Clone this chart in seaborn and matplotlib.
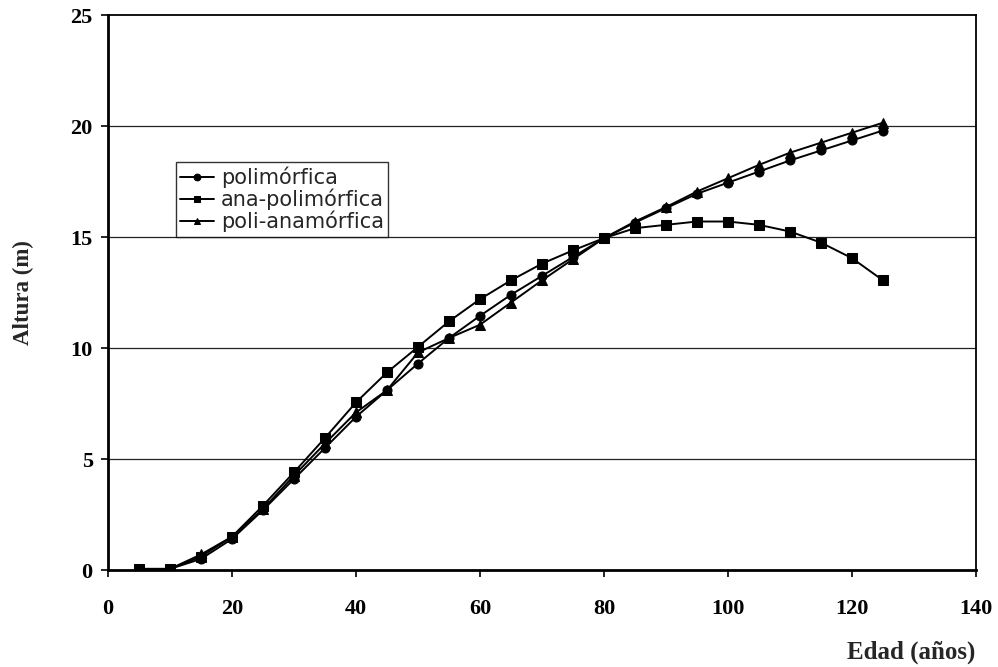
import numpy as np
import pandas as pd
import matplotlib
matplotlib.use("Agg")
import matplotlib.pyplot as plt
import seaborn as sns

# edades (años)
edad = [5, 10, 15, 20, 25, 30, 35, 40, 45, 50, 55, 60, 65,
        70, 75, 80, 85, 90, 95, 100, 105, 110, 115, 120, 125]

# alturas (m)
polimorfica = [0.05, 0.05, 0.5, 1.4, 2.7, 4.1, 5.5, 6.9, 8.1, 9.3, 10.45, 11.45, 12.4,
               13.25, 14.1, 14.95, 15.65, 16.3, 16.95, 17.45, 17.95, 18.45, 18.9, 19.35, 19.8]
ana_polimorfica = [0.05, 0.05, 0.6, 1.5, 2.9, 4.4, 5.95, 7.55, 8.9, 10.05, 11.2, 12.2, 13.05,
                   13.8, 14.4, 14.95, 15.4, 15.55, 15.7, 15.7, 15.55, 15.25, 14.75, 14.05, 13.05]
poli_anamorfica = [0.05, 0.05, 0.7, 1.5, 2.75, 4.25, 5.7, 7.1, 8.1, 9.8, 10.45, 11.05, 12.05,
                   13.05, 14.0, 14.95, 15.7, 16.35, 17.05, 17.65, 18.25, 18.8, 19.25, 19.7, 20.15]

series = ['polimórfica', 'ana-polimórfica', 'poli-anamórfica']

df = pd.DataFrame({
    'edad': edad * 3,
    'altura': polimorfica + ana_polimorfica + poli_anamorfica,
    'modelo': [series[0]] * len(edad) + [series[1]] * len(edad) + [series[2]] * len(edad),
})

sns.set_style("ticks")
plt.rcParams['font.family'] = ['Liberation Serif', 'DejaVu Serif']

fig = plt.figure(figsize=(9.98, 6.67), dpi=100)
ax = fig.add_axes([0.1082, 0.1454, 0.8697, 0.832])

for y in [5, 10, 15, 20]:
    ax.axhline(y, color='#222222', lw=0.9, zorder=0)

sns.lineplot(ax=ax, data=df, x='edad', y='altura', hue='modelo', style='modelo',
             hue_order=series, style_order=series,
             palette=['black'] * 3, markers=['o', 's', '^'], dashes=False,
             markersize=6.5, linewidth=1.4, markeredgecolor='black')

ax.set_xlim(0, 140)
ax.set_ylim(0, 25)
ax.set_xticks(range(0, 141, 20))
ax.set_yticks(range(0, 26, 5))
ax.tick_params(axis='both', direction='out', length=5, width=1.2, colors='black',
               labelsize=16)
ax.tick_params(axis='x', pad=16)
ax.tick_params(axis='y', pad=6)
for lab in ax.get_xticklabels() + ax.get_yticklabels():
    lab.set_fontweight('bold')

for side in ['left', 'bottom']:
    ax.spines[side].set_linewidth(2.0)
for side in ['top', 'right']:
    ax.spines[side].set_linewidth(1.3)
for s in ax.spines.values():
    s.set_color('black')

ax.set_xlabel('')
ax.set_ylabel('Altura (m)', fontsize=16.5, fontweight='bold', labelpad=26)
fig.text(0.977, 0.005, 'Edad (años)', ha='right', va='bottom',
         fontsize=18, fontweight='bold')

handles, labels = ax.get_legend_handles_labels()
leg = ax.legend(handles, labels, loc='upper left', bbox_to_anchor=(0.078, 0.735),
                borderaxespad=0, frameon=True, fancybox=False, edgecolor='black',
                handlelength=1.6, handletextpad=0.35, labelspacing=0.02,
                borderpad=0.22, markerscale=0.75,
                prop={'family': 'DejaVu Sans', 'size': 15})
leg.get_frame().set_linewidth(1.0)

plt.savefig('out.png', dpi=100)
